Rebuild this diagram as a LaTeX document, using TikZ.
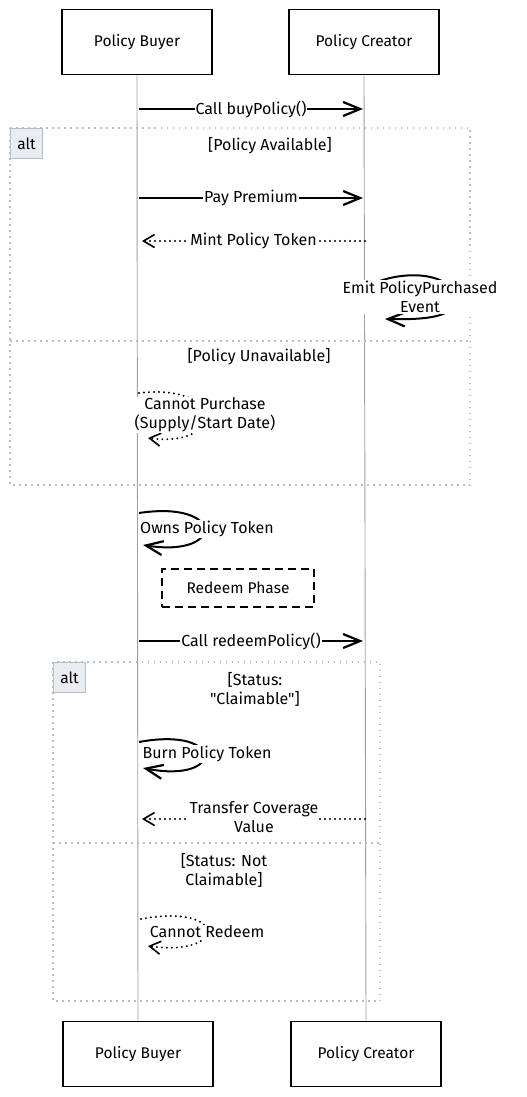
\documentclass[tikz,border=0pt]{standalone}
\usepackage{fontspec}
\setmainfont{Fira Sans}[Ligatures=TeXOff]
\usetikzlibrary{arrows.meta}
\definecolor{framegray}{HTML}{B4BCC4}
\definecolor{altfill}{HTML}{E9EDF1}
\definecolor{lifegray}{HTML}{A0A0A0}

\begin{document}
\begin{tikzpicture}[x=1pt,y=-1pt,>=Latex,
  actor/.style={draw=black,line width=1.6pt,minimum width=150pt,minimum height=65pt,font=\fontsize{15.5}{18}\selectfont},
  lifeline/.style={draw=lifegray,line width=0.9pt},
  msg/.style={line width=2pt,-{Straight Barb[length=17pt,width=14pt,line width=2.2pt]}},
  reply/.style={line width=2.2pt,line cap=round,dash pattern=on 0pt off 5pt,-{Straight Barb[length=11pt,width=13pt,line width=1.6pt]}},
  lbl/.style={fill=white,inner sep=1pt,align=center,font=\fontsize{16}{19}\selectfont},
  guard/.style={align=center,font=\fontsize{16}{19}\selectfont},
  altframe/.style={draw=framegray,line width=1.5pt,dash pattern=on 1.5pt off 4.5pt},
  altlbl/.style={draw=framegray,fill=altfill,line width=1.2pt,minimum width=32pt,minimum height=30pt,inner sep=0pt,font=\fontsize{15.5}{18}\selectfont},
  phasebox/.style={draw=black,line width=1.6pt,dash pattern=on 8pt off 5pt,minimum width=152pt,minimum height=38pt,font=\fontsize{15.5}{18}\selectfont}]
\useasboundingbox (0,0) rectangle (527,1097);

% participants
\node[actor] (buyer_top) at (137,42) {Policy Buyer};
\node[actor] (creator_top) at (364,42) {Policy Creator};
\node[actor] (buyer_bot) at (138,1054) {Policy Buyer};
\node[actor] (creator_bot) at (366,1054) {Policy Creator};
\draw[lifeline] (buyer_top.south)--(buyer_bot.north);
\draw[lifeline] (creator_top.south)--(creator_bot.north);

% first alt block
\draw[altframe] (10,128) rectangle (470,485);
\draw[altframe] (10,341)--(470,341);
\node[altlbl,anchor=north west] (alt_buy) at (10,128) {alt};
\node[guard] (g_avail) at (270,146) {[Policy Available]};
\node[guard] (g_unavail) at (259,357) {[Policy Unavailable]};

% second alt block
\draw[altframe] (53,662) rectangle (380,1001);
\draw[altframe] (53,843)--(380,843);
\node[altlbl,anchor=north west] (alt_redeem) at (53,662) {alt};
\node[guard] (g_claim) at (255,689) {[Status:\\"Claimable"]};
\node[guard] (g_noclaim) at (224,870) {[Status: Not\\Claimable]};

% message end points
\coordinate (b1) at (139,109);  \coordinate (c1) at (363,109);
\coordinate (b2) at (139,198);  \coordinate (c2) at (363,198);
\coordinate (c3) at (365,241);  \coordinate (b3) at (142,241);
\coordinate (b6) at (139,641);  \coordinate (c6) at (363,641);
\coordinate (c8) at (365,819);  \coordinate (b8) at (142,819);

\draw[msg] (b1)--node[lbl]{Call buyPolicy()}(c1);
\draw[msg] (b2)--node[lbl]{Pay Premium}(c2);
\draw[reply] (c3)--node[lbl]{Mint Policy Token}(b3);

% self messages
\coordinate (emit_a) at (367,287); \coordinate (emit_b) at (385,319);
\draw[msg] (emit_a) .. controls (395,270) and (450,270) .. (455,297) .. controls (458,316) and (430,320) .. (emit_b);
\node[lbl] (emit) at (420,297) {Emit PolicyPurchased\\Event};

\coordinate (nobuy_a) at (139,393); \coordinate (nobuy_b) at (148,438);
\draw[reply] (nobuy_a) .. controls (225,383) and (225,448) .. (nobuy_b);
\node[lbl] (nobuy) at (205,415) {Cannot Purchase\\(Supply/Start Date)};

\coordinate (owns_a) at (139,513); \coordinate (owns_b) at (143,545);
\draw[msg] (owns_a) .. controls (225,500) and (225,558) .. (owns_b);
\node[lbl] (owns) at (207,529) {Owns Policy Token};

\node[phasebox] (redeem) at (238,588) {Redeem Phase};

\draw[msg] (b6)--node[lbl]{Call redeemPolicy()}(c6);

\coordinate (burn_a) at (139,742); \coordinate (burn_b) at (143,768);
\draw[msg] (burn_a) .. controls (225,726) and (225,784) .. (burn_b);
\node[lbl] (burn) at (207,754) {Burn Policy Token};

\draw[reply] (c8)--(b8);
\node[lbl] (transfer) at (254,817) {Transfer Coverage\\Value};

\coordinate (noredeem_a) at (141,919); \coordinate (noredeem_b) at (148,946);
\draw[reply] (noredeem_a) .. controls (228,903) and (228,957) .. (noredeem_b);
\node[lbl] (noredeem) at (207,932) {Cannot Redeem};
\end{tikzpicture}
\end{document}
